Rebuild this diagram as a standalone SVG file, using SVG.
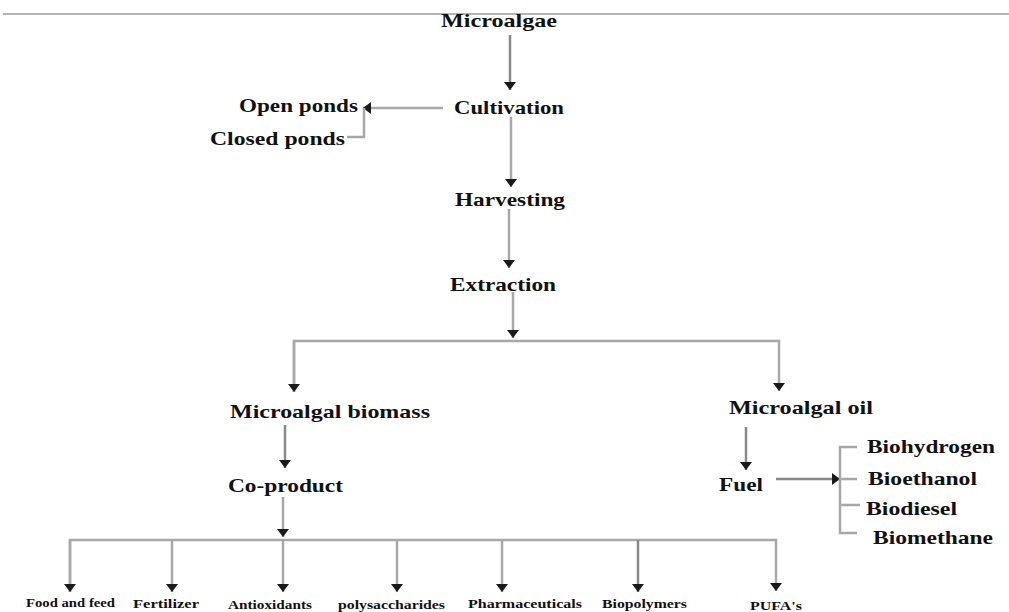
<svg xmlns="http://www.w3.org/2000/svg" width="1009" height="612" viewBox="0 0 1009 612">
<style>
.t{font-family:"Liberation Serif","Times New Roman",serif;font-weight:bold;font-size:19px;fill:#111}
.s{font-family:"Liberation Serif","Times New Roman",serif;font-weight:bold;font-size:13.5px;fill:#111}
.c{fill:none;stroke:#a8a8a8;stroke-width:2.5}
.d{fill:none;stroke:#888;stroke-width:2.5}
</style>
<defs>
<marker id="ah" viewBox="0 0 8 12" refX="8" refY="6" markerWidth="8" markerHeight="12" markerUnits="userSpaceOnUse" orient="auto">
<path d="M0,0 L8,6 L0,12 z" fill="#1a1a1a"/>
</marker>
</defs>
<line x1="3" y1="14" x2="1009" y2="14" stroke="#b4b4b4" stroke-width="2"/>
<g id="connectors">
<path class="d" d="M510,35 V90" marker-end="url(#ah)"/>
<path class="c" d="M443,108 H363" marker-end="url(#ah)"/>
<path class="c" d="M347,137 H364 V108"/>
<path class="c" d="M511,117 V187" marker-end="url(#ah)"/>
<path class="c" d="M509,209 V268" marker-end="url(#ah)"/>
<path class="c" d="M513,292 V338" marker-end="url(#ah)"/>
<path class="c" d="M294,392 V341 H779 V391" marker-end="url(#ah)"/>
<path class="c" d="M294,341 V392" marker-end="url(#ah)"/>
<path class="d" d="M285,425 V468" marker-end="url(#ah)"/>
<path class="c" d="M283,497 V537" marker-end="url(#ah)"/>
<path class="c" d="M70,592 V540 H776 V591" marker-end="url(#ah)"/>
<path class="c" d="M70,540 V592" marker-end="url(#ah)"/>
<path class="c" d="M172,540 V592" marker-end="url(#ah)"/>
<path class="c" d="M283,540 V592" marker-end="url(#ah)"/>
<path class="c" d="M397,540 V592" marker-end="url(#ah)"/>
<path class="c" d="M502,540 V592" marker-end="url(#ah)"/>
<path class="d" d="M638,540 V592" marker-end="url(#ah)"/>
<path class="d" d="M746,427 V470" marker-end="url(#ah)"/>
<path class="d" d="M776,479 H840" marker-end="url(#ah)"/>
<path class="c" d="M857,447 H840 V533 H857"/>
<path class="c" d="M840,479 H857"/>
<path class="c" d="M840,505 H860"/>
</g>
<g id="microalgae"><text class="t" x="441" y="27" textLength="116" lengthAdjust="spacingAndGlyphs">Microalgae</text></g>
<g id="cultivation"><text class="t" x="454" y="114" textLength="110" lengthAdjust="spacingAndGlyphs">Cultivation</text></g>
<g id="open-ponds"><text class="t" x="239" y="112" textLength="119" lengthAdjust="spacingAndGlyphs">Open ponds</text></g>
<g id="closed-ponds"><text class="t" x="210" y="145" textLength="135" lengthAdjust="spacingAndGlyphs">Closed ponds</text></g>
<g id="harvesting"><text class="t" x="455" y="206" textLength="110" lengthAdjust="spacingAndGlyphs">Harvesting</text></g>
<g id="extraction"><text class="t" x="450" y="291" textLength="106" lengthAdjust="spacingAndGlyphs">Extraction</text></g>
<g id="microalgal-biomass"><text class="t" x="230" y="418" textLength="200" lengthAdjust="spacingAndGlyphs">Microalgal biomass</text></g>
<g id="co-product"><text class="t" x="228" y="492" textLength="115" lengthAdjust="spacingAndGlyphs">Co-product</text></g>
<g id="microalgal-oil"><text class="t" x="729" y="414" textLength="144" lengthAdjust="spacingAndGlyphs">Microalgal oil</text></g>
<g id="fuel"><text class="t" x="719" y="491" textLength="44" lengthAdjust="spacingAndGlyphs">Fuel</text></g>
<g id="biohydrogen"><text class="t" x="867" y="453" textLength="128" lengthAdjust="spacingAndGlyphs">Biohydrogen</text></g>
<g id="bioethanol"><text class="t" x="868" y="485" textLength="109" lengthAdjust="spacingAndGlyphs">Bioethanol</text></g>
<g id="biodiesel"><text class="t" x="866" y="515" textLength="91" lengthAdjust="spacingAndGlyphs">Biodiesel</text></g>
<g id="biomethane"><text class="t" x="873" y="544" textLength="120" lengthAdjust="spacingAndGlyphs">Biomethane</text></g>
<g id="food-and-feed"><text class="s" x="26" y="607" textLength="89" lengthAdjust="spacingAndGlyphs">Food and feed</text></g>
<g id="fertilizer"><text class="s" x="133" y="608" textLength="66" lengthAdjust="spacingAndGlyphs">Fertilizer</text></g>
<g id="antioxidants"><text class="s" x="228" y="609" textLength="84" lengthAdjust="spacingAndGlyphs">Antioxidants</text></g>
<g id="polysaccharides"><text class="s" x="338" y="609" textLength="107" lengthAdjust="spacingAndGlyphs">polysaccharides</text></g>
<g id="pharmaceuticals"><text class="s" x="468" y="608" textLength="114" lengthAdjust="spacingAndGlyphs">Pharmaceuticals</text></g>
<g id="biopolymers"><text class="s" x="602" y="608" textLength="85" lengthAdjust="spacingAndGlyphs">Biopolymers</text></g>
<g id="pufas"><text class="s" x="750" y="610" textLength="52" lengthAdjust="spacingAndGlyphs">PUFA's</text></g>
</svg>
